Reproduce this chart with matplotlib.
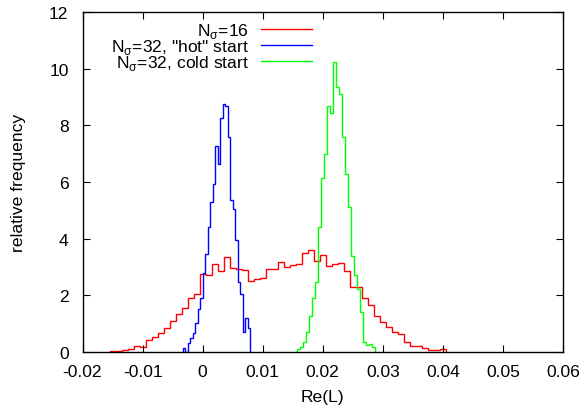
import numpy as np
import matplotlib
matplotlib.use("Agg")
import matplotlib.pyplot as plt

plt.rcParams["font.family"] = ["Liberation Sans", "DejaVu Sans"]
plt.rcParams["mathtext.fontset"] = "custom"
plt.rcParams["mathtext.rm"] = "Liberation Sans"
plt.rcParams["axes.unicode_minus"] = False

# --- histogram data (relative frequency in %) ---
# N_sigma = 16, bins of 0.001
red_lo, red_hi = -0.0155, 0.0405
red_vals = [0.01, 0.02, 0.06, 0.10, 0.19, 0.16, 0.41, 0.52, 0.66, 0.83,
            1.08, 1.33, 1.54, 1.90, 2.04, 2.75, 2.71, 3.10, 2.86, 3.34,
            2.96, 2.92, 2.90, 2.51, 2.57, 2.59, 2.92, 2.92, 3.17, 2.98,
            3.05, 3.10, 3.50, 3.60, 3.22, 3.42, 3.04, 3.10, 3.14, 2.87,
            2.28, 2.28, 1.90, 1.65, 1.27, 1.04, 0.86, 0.68, 0.63, 0.33,
            0.19, 0.21, 0.14, 0.07, 0.06, 0.10]

# N_sigma = 32, "hot" start
blue_lo, blue_hi = -0.0033, 0.0079
blue_vals = [0.13, 0.0, 0.30, 0.50, 0.65, 1.00, 1.50, 1.90, 2.80,
             3.45, 4.40, 5.28, 5.93, 7.27, 6.65, 8.25, 8.75, 8.70, 7.60,
             5.35, 5.05, 3.95, 2.45, 2.05, 0.70, 1.20, 0.85]

# N_sigma = 32, cold start
green_lo, green_hi = 0.0157, 0.0287
green_vals = [0.10, 0.15, 0.33, 0.68, 1.27, 1.90, 2.45, 4.40, 6.15, 7.00,
              8.70, 8.45, 10.23, 9.35, 9.10, 7.60, 6.30, 5.10, 3.40, 2.70,
              2.20, 1.40, 0.33, 0.24, 0.27, 0.15]

labels = [r"N$_\mathregular{σ}$=16",
          r'N$_\mathregular{σ}$=32, "hot" start',
          r"N$_\mathregular{σ}$=32, cold start"]
colors = ["#ff0000", "#0000ff", "#00ff00"]

xticks = [-0.02, -0.01, 0, 0.01, 0.02, 0.03, 0.04, 0.05, 0.06]
xticklabels = ["-0.02", "-0.01", "0", "0.01", "0.02", "0.03", "0.04", "0.05", "0.06"]
yticks = [0, 2, 4, 6, 8, 10, 12]

fig = plt.figure(figsize=(5.84, 4.10), dpi=100, facecolor="white")
ax = fig.add_axes([82.5 / 584, 57.3 / 410, 480.5 / 584, 339.4 / 410])

series = [(red_lo, red_hi, red_vals), (blue_lo, blue_hi, blue_vals),
          (green_lo, green_hi, green_vals)]
for (lo, hi, vals), c, lab in zip(series, colors, labels):
    edges = np.linspace(lo, hi, len(vals) + 1)
    ax.stairs(vals, edges, baseline=0, color=c, linewidth=1.0, label=lab)

ax.set_xlim(-0.02, 0.06)
ax.set_ylim(0, 12)
ax.set_xticks(xticks)
ax.set_xticklabels(xticklabels)
ax.set_yticks(yticks)
ax.tick_params(direction="in", top=True, right=True, length=5, width=0.8,
               labelsize=12.6, color="black")
ax.tick_params(axis="x", pad=9)
ax.tick_params(axis="y", pad=10)
for s in ax.spines.values():
    s.set_linewidth(1.0)

ax.set_xlabel("Re(L)", fontsize=12.6, labelpad=7)
ax.set_ylabel("relative frequency", fontsize=12.6, labelpad=17)

leg = ax.legend(loc="upper right", bbox_to_anchor=(0.485, 0.985), frameon=False,
                markerfirst=False, fontsize=12.6, handlelength=2.9,
                handletextpad=0.7, labelspacing=-0.16, borderpad=0.2,
                borderaxespad=0.0)

fig.savefig("out.png", dpi=100)
plt.close(fig)
